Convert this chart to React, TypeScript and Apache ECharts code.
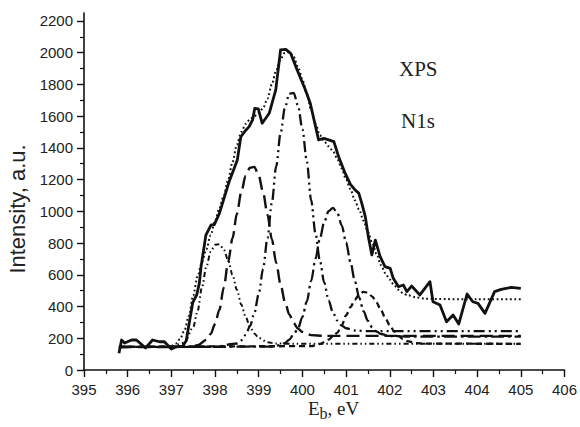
import React, { useEffect, useRef } from "react";
import * as echarts from "echarts";

// Experimental spectrum (solid)
const expData: [number, number][] = [
  [395.8, 105], [395.86, 189], [395.93, 170], [396.09, 189], [396.2, 189], [396.28, 170],
  [396.41, 139], [396.57, 189], [396.73, 178], [396.84, 178], [397.0, 132], [397.11, 147],
  [397.25, 147], [397.34, 185], [397.49, 425], [397.58, 473], [397.64, 546], [397.68, 651],
  [397.79, 850], [397.91, 915], [397.98, 915], [398.1, 987], [398.17, 1050], [398.32, 1185],
  [398.51, 1324], [398.59, 1470], [398.71, 1513], [398.78, 1534], [398.86, 1576], [398.91, 1649],
  [398.99, 1645], [399.08, 1555], [399.24, 1618], [399.39, 1765], [399.5, 2017], [399.62, 2021],
  [399.73, 1996], [399.88, 1891], [400.07, 1765], [400.18, 1681], [400.37, 1450], [400.49, 1460],
  [400.6, 1450], [400.72, 1439], [400.83, 1344], [400.98, 1239], [401.1, 1170], [401.21, 1134],
  [401.29, 1115], [401.36, 1050], [401.44, 966], [401.51, 840], [401.59, 725], [401.67, 819],
  [401.78, 714], [401.89, 651], [402.01, 641], [402.08, 578], [402.2, 525], [402.31, 536],
  [402.39, 494], [402.5, 529], [402.69, 473], [402.92, 557], [402.99, 430], [403.15, 410],
  [403.3, 304], [403.45, 347], [403.58, 290], [403.77, 479], [403.9, 430], [404.02, 420],
  [404.18, 357], [404.4, 494], [404.55, 508], [404.78, 521], [405.0, 515],
];

// Fit envelope (dotted)
const fitData: [number, number][] = [
  [395.8, 145], [396.5, 145], [396.9, 146], [397.0, 152], [397.1, 166], [397.2, 195], [397.3, 250],
  [397.4, 340], [397.5, 470], [397.6, 590], [397.7, 680], [397.8, 760], [397.9, 850], [398.0, 940],
  [398.1, 1020], [398.2, 1100], [398.3, 1200], [398.4, 1310], [398.5, 1420], [398.6, 1500],
  [398.7, 1550], [398.8, 1580], [398.9, 1600], [399.0, 1620], [399.1, 1650], [399.2, 1710],
  [399.3, 1800], [399.4, 1890], [399.5, 1960], [399.6, 2000], [399.7, 2005], [399.8, 1975],
  [399.9, 1910], [400.0, 1830], [400.1, 1740], [400.2, 1640], [400.3, 1550], [400.4, 1480],
  [400.5, 1440], [400.6, 1410], [400.7, 1380], [400.8, 1330], [400.9, 1270], [401.0, 1200],
  [401.1, 1140], [401.2, 1070], [401.3, 1010], [401.4, 940], [401.5, 870], [401.6, 800],
  [401.7, 730], [401.8, 660], [401.9, 610], [402.0, 570], [402.1, 535], [402.2, 505],
  [402.3, 485], [402.4, 472], [402.6, 458], [402.8, 450], [403.0, 447], [404.0, 446], [405.0, 446],
];

// Component peaks
const peakA: [number, number][] = [
  [395.8, 145], [396.5, 145], [397.0, 147], [397.3, 172], [397.5, 270], [397.6, 370], [397.7, 520],
  [397.8, 650], [397.9, 745], [398.0, 790], [398.1, 792], [398.2, 760], [398.3, 692], [398.4, 600],
  [398.5, 505], [398.6, 413], [398.7, 336], [398.8, 272], [398.9, 230], [399.0, 202], [399.2, 175],
  [399.4, 167], [399.8, 165], [405.0, 165],
];
const peakB: [number, number][] = [
  [395.8, 145], [397.0, 145], [397.4, 147], [397.6, 156], [397.8, 190], [397.9, 227], [398.0, 290],
  [398.1, 380], [398.2, 520], [398.3, 680], [398.4, 830], [398.5, 985], [398.6, 1120], [398.7, 1225],
  [398.8, 1275], [398.9, 1280], [399.0, 1225], [399.1, 1120], [399.2, 980], [399.3, 825],
  [399.4, 675], [399.5, 540], [399.6, 430], [399.7, 350], [399.8, 295], [399.9, 260], [400.0, 240],
  [400.2, 220], [400.5, 215], [405.0, 215],
];
const peakC: [number, number][] = [
  [395.8, 145], [398.0, 146], [398.5, 167], [398.6, 187], [398.7, 221], [398.8, 276], [398.9, 359],
  [399.0, 479], [399.1, 637], [399.2, 831], [399.3, 1053], [399.4, 1283], [399.5, 1492],
  [399.6, 1653], [399.7, 1742], [399.8, 1746], [399.9, 1666], [400.0, 1517], [400.1, 1318],
  [400.2, 1070], [400.3, 860], [400.4, 690], [400.5, 551], [400.6, 438], [400.7, 361], [400.8, 311],
  [400.9, 280], [401.0, 263], [401.2, 249], [401.5, 245], [405.0, 245],
];
const peakD: [number, number][] = [
  [395.8, 145], [399.3, 147], [399.5, 158], [399.6, 170], [399.7, 191], [399.8, 225], [399.9, 262],
  [400.0, 335], [400.1, 430], [400.2, 560], [400.3, 701], [400.4, 828], [400.5, 933], [400.6, 1001],
  [400.7, 1022], [400.8, 989], [400.9, 912], [401.0, 804], [401.1, 681], [401.2, 561], [401.3, 456],
  [401.4, 371], [401.5, 309], [401.6, 268], [401.7, 242], [401.8, 227], [402.0, 214], [402.5, 210],
  [405.0, 210],
];
const peakE: [number, number][] = [
  [395.8, 147], [400.2, 150], [400.4, 163], [400.6, 192], [400.7, 212], [400.8, 235], [400.9, 280],
  [401.0, 345], [401.1, 396], [401.2, 442], [401.3, 476], [401.4, 493], [401.5, 487], [401.6, 463],
  [401.7, 424], [401.8, 376], [401.9, 327], [402.0, 282], [402.1, 244], [402.2, 215], [402.3, 195],
  [402.4, 182], [402.6, 169], [402.8, 166], [405.0, 165],
];

const yMajorTicks = [0, 200, 400, 600, 800, 1000, 1200, 1400, 1600, 1800, 2000, 2200];
const yMinorTicks = [100, 300, 500, 700, 900, 1100, 1300, 1500, 1700, 1900, 2100];

const INK = "#111";
const SANS = "Liberation Sans, Arial, sans-serif";
const SERIF = "Liberation Serif, Times New Roman, serif";

export default function App() {
  const ref = useRef<HTMLDivElement>(null);
  useEffect(() => {
    document.body.style.margin = "0";
    if (!ref.current) return;
    const chart = echarts.init(ref.current, undefined, { renderer: "svg" });
    const comp = (data: [number, number][], dash: number[], width = 2.3) => ({
      type: "line",
      data,
      showSymbol: false,
      symbol: "none",
      smooth: 0.3,
      smoothMonotone: "x",
      lineStyle: { color: INK, width, type: dash, cap: "butt" },
      silent: true,
    });
    chart.setOption({
      animation: false,
      backgroundColor: "#fff",
      grid: { left: 84, right: 13, top: 13, bottom: 57, containLabel: false },
      xAxis: {
        type: "value",
        min: 395,
        max: 406,
        interval: 1,
        axisLine: { show: true, lineStyle: { color: INK, width: 1.6 } },
        axisTick: { show: true, length: 7, lineStyle: { color: INK, width: 1.4 } },
        minorTick: { show: true, splitNumber: 2, length: 4, lineStyle: { color: INK, width: 1.2 } },
        splitLine: { show: false },
        minorSplitLine: { show: false },
        axisLabel: { color: "#222", fontFamily: SANS, fontSize: 15, margin: 12, formatter: (v: number) => String(v) },
      },
      yAxis: [
        {
          type: "value",
          min: 0,
          max: 2250,
          interval: 200,
          axisLine: { show: true, onZero: false, lineStyle: { color: INK, width: 1.6 } },
          axisTick: { show: true, length: 7, customValues: yMajorTicks, lineStyle: { color: INK, width: 1.4 } },
          splitLine: { show: false },
          axisLabel: {
            color: "#222",
            fontFamily: SANS,
            fontSize: 15,
            margin: 11,
            customValues: yMajorTicks,
            formatter: (v: number) => String(v),
          },
        },
        {
          type: "value",
          min: 0,
          max: 2250,
          position: "left",
          axisLine: { show: false },
          axisTick: { show: true, length: 4, customValues: yMinorTicks, lineStyle: { color: INK, width: 1.2 } },
          splitLine: { show: false },
          axisLabel: { show: false },
        },
      ],
      graphic: [
        {
          type: "text",
          x: 17,
          y: 209,
          rotation: Math.PI / 2,
          style: {
            text: "Intensity, a.u.",
            font: `22px ${SANS}`,
            fill: "#222",
            align: "center",
            verticalAlign: "middle",
          },
        },
        {
          type: "text",
          x: 308,
          y: 399,
          style: {
            text: "{e|E}{s|b}{e|, eV}",
            fill: "#222",
            align: "left",
            verticalAlign: "top",
            rich: {
              e: { fontFamily: SERIF, fontSize: 19, lineHeight: 20, verticalAlign: "top", fill: "#222" },
              s: { fontFamily: SERIF, fontSize: 16, lineHeight: 20, padding: [6, 0, 0, 0], verticalAlign: "top", fill: "#222" },
            },
          },
        },
        {
          type: "text",
          x: 399,
          y: 69,
          style: { text: "XPS", font: `21px ${SERIF}`, fill: "#222", align: "left", verticalAlign: "middle" },
        },
        {
          type: "text",
          x: 401,
          y: 121,
          style: { text: "N1s", font: `21px ${SERIF}`, fill: "#222", align: "left", verticalAlign: "middle" },
        },
      ],
      series: [
        comp(peakA, [5, 3, 1.5, 3, 1.5, 3], 2),
        comp(peakB, [13, 6], 2.4),
        comp(peakC, [11, 4, 2, 4, 2, 4], 2.3),
        comp(peakD, [13, 4, 2.5, 4], 2.3),
        comp(peakE, [6, 4], 2.3),
        {
          type: "line",
          data: fitData,
          showSymbol: false,
          symbol: "none",
          smooth: 0.3,
          smoothMonotone: "x",
          lineStyle: { color: INK, width: 2, type: [1.8, 2.6] },
          silent: true,
        },
        {
          type: "line",
          data: expData,
          showSymbol: false,
          symbol: "none",
          lineStyle: { color: INK, width: 2.8, join: "round" },
          silent: true,
        },
      ],
    });
    return () => chart.dispose();
  }, []);
  return <div ref={ref} style={{ width: 580, height: 427 }} />;
}
